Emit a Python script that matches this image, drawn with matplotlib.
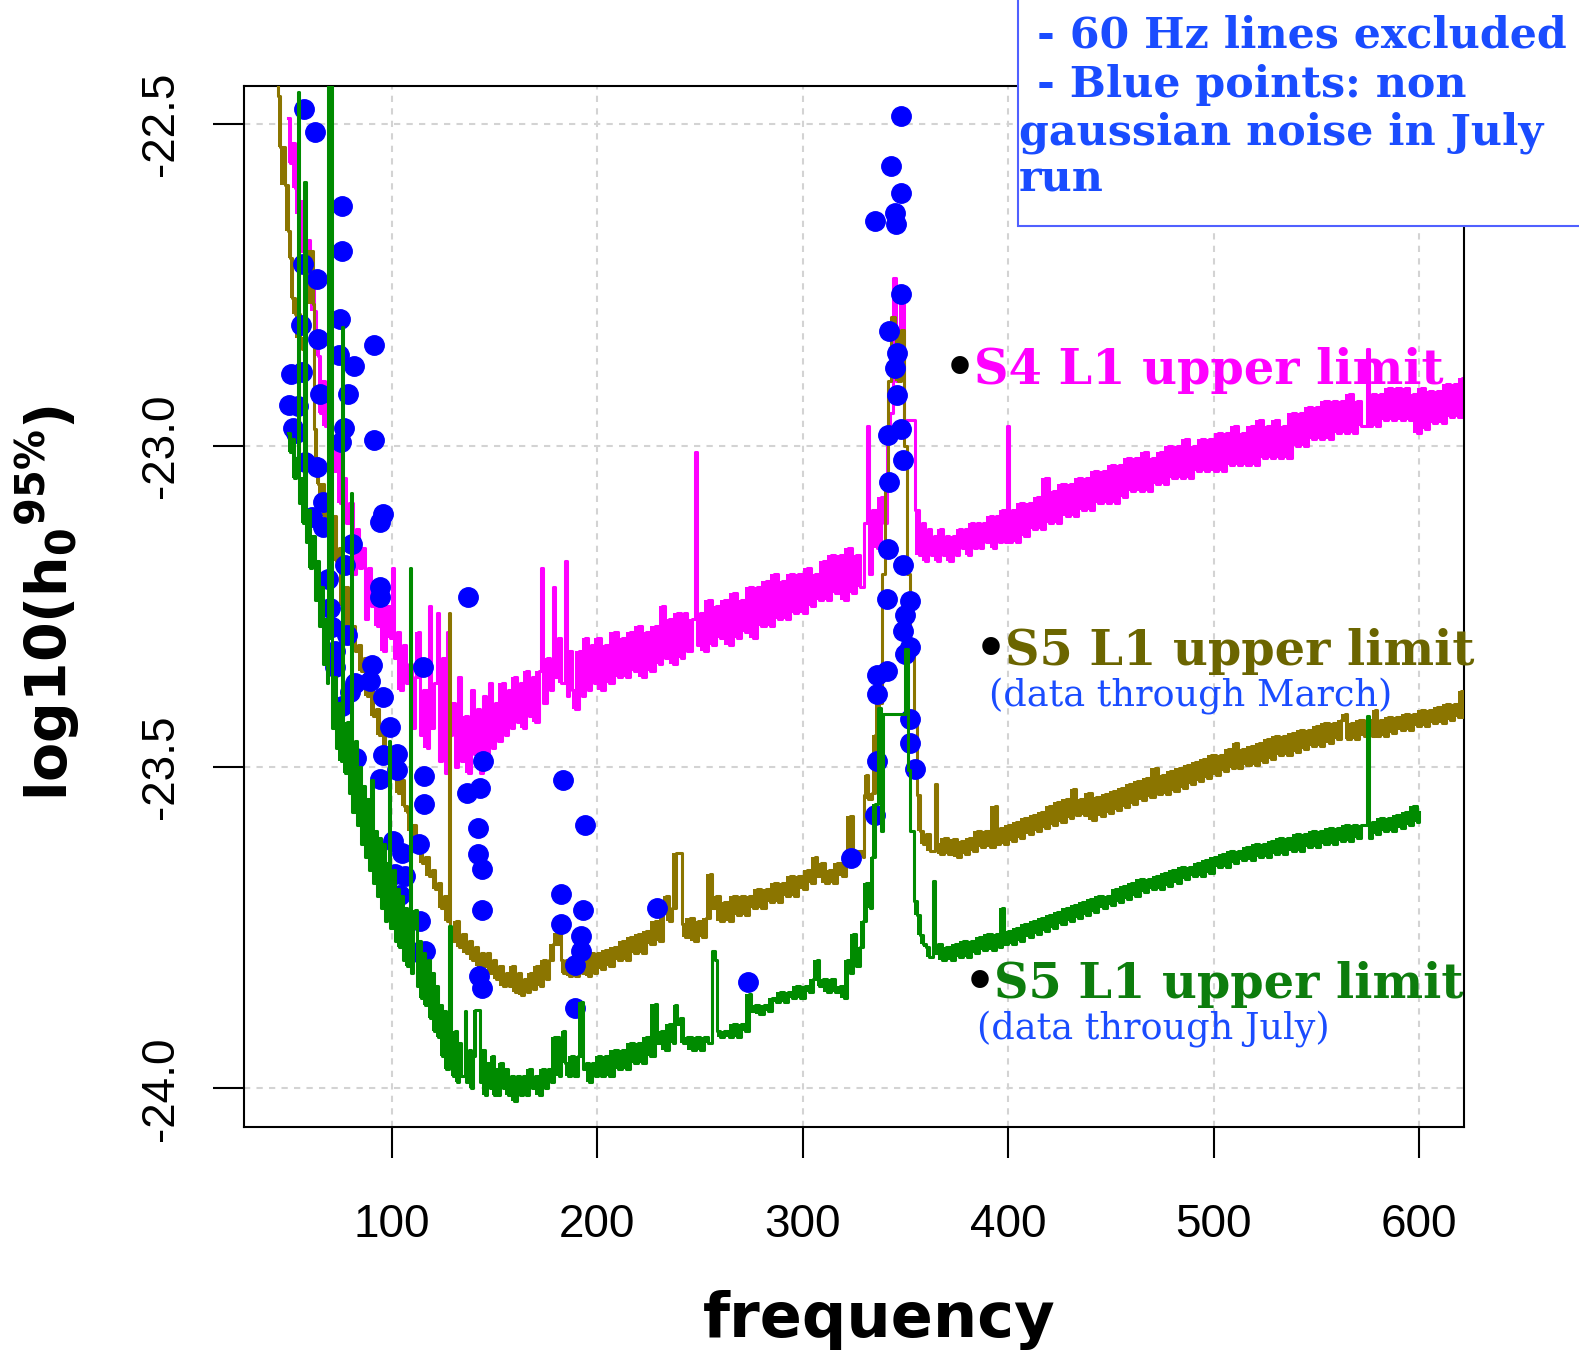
import numpy as np
import matplotlib
matplotlib.use('Agg')
from matplotlib import pyplot as plt
from matplotlib.patches import Rectangle

# S4 L1 upper limit (magenta), (frequency, log10 h0)
s4 = [(49.5,-22.49),(50.5,-22.56),(51.5,-22.53),(53,-22.6),(54.5,-22.64),(56,-22.62),(57.5,-22.7),(59,-22.68),
      (60.5,-22.74),(62,-22.79),(63,-22.83),(64,-22.86),(65,-22.95),(66,-22.9),(67.5,-22.97),(69,-22.95),
      (70.5,-23.02),(72,-23.04),(73.5,-23.0),(75,-23.09),(76.5,-23.05),(78,-23.12),(79.5,-23.09),(81,-23.2),
      (82.5,-23.13),(84,-23.19),(85.5,-23.16),(87,-23.27),(88.5,-23.19),(90,-23.25),(91.5,-23.21),(93,-23.28),
      (94.5,-23.23),(96,-23.32),(97.5,-23.25),(99,-23.3),(100,-23.19),(101,-23.33),(102.5,-23.29),(104,-23.38),
      (105.5,-23.31),(107,-23.37),(108.5,-23.34),(110,-23.44),(111.5,-23.36),(113,-23.29),(114,-23.45),(115.5,-23.38),
      (117,-23.47),(118,-23.25),(119,-23.44),(120.5,-23.37),(122,-23.26),(123,-23.49),(124.5,-23.33),(126,-23.51),
      (127,-23.29),(128,-23.45),(129.5,-23.4),(131,-23.5),(132.5,-23.36),(134,-23.49),(135.5,-23.42),(137,-23.51),
      (138.5,-23.38),(140,-23.48),(141.5,-23.41),(143,-23.51),(144.5,-23.39),(146,-23.49),(147.5,-23.37),(149,-23.47),
      (150.5,-23.4),(152,-23.46),(153.5,-23.37),(155,-23.45),(156.5,-23.38),(158,-23.44),(159.5,-23.36),(161,-23.43),
      (162.5,-23.37),(164,-23.44),(165.5,-23.35),(167,-23.42),(168.5,-23.36),(170,-23.43),(171.5,-23.35),(172.8,-23.19),
      (173.5,-23.4),(175.5,-23.33),(177,-23.38),(178.6,-23.22),(179.3,-23.36),(181,-23.3),(182.5,-23.37),(184.5,-23.18),
      (185.3,-23.39),(186.5,-23.32),(188,-23.38),(189.5,-23.41),(191,-23.32),(192.5,-23.39),(194,-23.3),(195.5,-23.38),
      (197,-23.31),(198.5,-23.37),(200,-23.3),
      (202,-23.38),(204,-23.31),(206,-23.37),(208,-23.29),(210,-23.36),(212,-23.3),(214,-23.36),(216,-23.29),
      (218,-23.35),(220,-23.28),(222,-23.36),(224,-23.29),(226,-23.35),(228,-23.28),(230,-23.34),(231.5,-23.25),
      (233,-23.33),(235,-23.27),(237,-23.34),(239,-23.26),(241,-23.33),(242.5,-23.26),(244,-23.32),(246,-23.27),
      (247.5,-23.01),(248.5,-23.31),(250,-23.26),(252,-23.32),(254,-23.24),(256,-23.31),(258,-23.25),(260,-23.3),
      (262,-23.24),(264,-23.31),(266,-23.23),(268,-23.3),(270,-23.24),(272,-23.29),(274,-23.22),(276,-23.3),
      (278,-23.22),(280,-23.28),(282,-23.21),(284,-23.28),(286,-23.2),(288,-23.27),(290,-23.21),(292,-23.27),
      (294,-23.2),(296,-23.26),(298,-23.2),(300,-23.26),(302,-23.19),(304,-23.25),(306,-23.2),(308,-23.24),
      (310,-23.18),(312,-23.24),(314,-23.17),(316,-23.23),(318,-23.17),(320,-23.24),(322,-23.16),(324,-23.23),
      (326,-23.17),(328,-23.22),(330,-23.12),(331.5,-22.97),(332.5,-23.2),(334,-23.1),(336,-23.16),(338,-23.08),
      (339.5,-23.12),(341,-22.99),(342.5,-22.95),(344,-22.74),(345.5,-22.9),(347,-22.85),(348.5,-22.78),(349.5,-22.96),
      (354.7,-23.1),(356.5,-23.17),(358,-23.12),(359.5,-23.18),(361,-23.13),(362.5,-23.17),(364,-23.14),(365.5,-23.18),
      (367,-23.13),(368.5,-23.17),(370,-23.14),(371.5,-23.18),(373,-23.14),(374.5,-23.17),(376,-23.13),(377.5,-23.16),
      (379,-23.13),(380.5,-23.17),(382,-23.12),(383.5,-23.16),(385,-23.12),(386.5,-23.16),(388,-23.12),(389.5,-23.15),
      (391,-23.11),(392.5,-23.16),(394,-23.11),(395.5,-23.15),(397,-23.1),(398.5,-23.15),(399.7,-22.97),(400.5,-23.15),
      (402,-23.1),(404,-23.15),(406,-23.09),(408,-23.14),(410,-23.09),(412,-23.13),(414,-23.08),(416,-23.13),
      (418,-23.05),(420,-23.12),(422,-23.07),(424,-23.12),(426,-23.06),(428,-23.11),(430,-23.06),(432,-23.11),
      (434,-23.05),(436,-23.1),(438,-23.05),(440,-23.1),(442,-23.04),(444,-23.09),(446,-23.04),(448,-23.09),
      (450,-23.03),(452,-23.09),(454,-23.03),(456,-23.08),(458,-23.02),(460,-23.07),(462,-23.02),(464,-23.07),
      (466,-23.01),(468,-23.07),(470,-23.02),(472,-23.06),(474,-23.01),(476,-23.06),(478,-23.0),(480,-23.05),
      (482,-23.0),(484,-23.05),(486,-22.99),(488,-23.05),(490,-23.0),(492,-23.04),(494,-22.99),(496,-23.04),
      (498,-22.99),(500,-23.04),(502,-22.98),(504,-23.04),(506,-22.98),(508,-23.03),(510,-22.97),(512,-23.03),
      (514,-22.98),(516,-23.03),(518,-22.97),(520,-23.03),(522,-22.96),(524,-23.02),(526,-22.97),(528,-23.02),
      (530,-22.96),(532,-23.02),(534,-22.97),(536,-23.02),(538,-22.95),(540,-23.0),(542,-22.95),(544,-23.0),
      (546,-22.94),(548,-22.99),(550,-22.94),(552,-22.99),(554,-22.93),(556,-22.99),(558,-22.93),(560,-22.98),
      (562,-22.93),(564,-22.98),(566,-22.92),(568,-22.98),(570,-22.93),(572,-22.97),(574.5,-22.85),(575.5,-22.97),
      (577,-22.92),(579,-22.97),(581,-22.92),(583,-22.96),(585,-22.91),(587,-22.96),(589,-22.91),(591,-22.96),
      (593,-22.91),(595,-22.96),(597,-22.92),(599,-22.98),(601,-22.91),(603,-22.975),(605,-22.915),(607,-22.965),
      (609,-22.915),(611,-22.965),(613,-22.905),(615,-22.955),(617,-22.905),(619,-22.955),(621,-22.895),(623,-22.945),
      (625,-22.915)]

# S5 L1 upper limit, data through March (olive)
s5_march = [(42,-22.3),(44.7,-22.456),(45.7,-22.535),(48.2,-22.595),(49.4,-22.666),(50.5,-22.708),(51.3,-22.77),
      (52.9,-22.796),(55.4,-22.833),(56.6,-22.85),(57.9,-22.697),(61.8,-22.78),(62.3,-22.975),(63.2,-23.02),
      (64,-23.06),(65,-23.09),(66,-23.06),(67,-23.11),(68.5,-23.08),(70,-23.14),(71.5,-23.11),(73,-23.18),
      (74.5,-23.16),(76,-23.25),(77.5,-23.22),(79,-23.3),(80.5,-23.28),(82,-23.32),(83.5,-23.31),(85,-23.35),
      (86.5,-23.33),(88,-23.39),(89.5,-23.37),(91,-23.42),(92.5,-23.41),(94,-23.45),(95.5,-23.44),(97,-23.48),
      (98.5,-23.47),(100,-23.5),(101.5,-23.51),(103,-23.54),(104.5,-23.52),(106,-23.56),(107.5,-23.57),(109,-23.6),
      (110.5,-23.59),(112,-23.63),(113.5,-23.62),(115,-23.65),(116.5,-23.64),(118,-23.67),(119.5,-23.66),(121,-23.69),
      (122.5,-23.68),(124,-23.72),(125.5,-23.7),(127,-23.74),(127.8,-23.26),(128.6,-23.75),(130,-23.77),(131.5,-23.74),
      (133,-23.78),(134.5,-23.76),(136,-23.79),(137.5,-23.77),(139,-23.8),(140.5,-23.78),(142,-23.81),(143.5,-23.79),
      (145,-23.81),(146.5,-23.79),(148,-23.82),(149.5,-23.8),(151,-23.83),(152.5,-23.81),(154,-23.84),(155.5,-23.82),
      (157,-23.84),(158.5,-23.81),(160,-23.85),(161.5,-23.82),(163,-23.855),(164.5,-23.83),(166,-23.85),(167.5,-23.82),
      (169,-23.845),(170.5,-23.81),(172,-23.84),(173.5,-23.8),(175,-23.83),(176.5,-23.8),(178.5,-23.775),(181.8,-23.758),
      (182.3,-23.8),(183.5,-23.82),(185,-23.8),(186.5,-23.825),(188,-23.805),(189.5,-23.825),(191,-23.8),(192.5,-23.82),
      (194,-23.795),(195.5,-23.825),(197,-23.79),(198.5,-23.82),(200,-23.79),(202,-23.815),(204,-23.785),(206,-23.81),
      (208,-23.78),(210,-23.8),(212,-23.77),(214,-23.8),(216,-23.765),(218,-23.79),(220,-23.76),(222,-23.79),
      (224,-23.755),(226,-23.775),(228,-23.74),(230,-23.77),(232,-23.72),(233.5,-23.7),(235,-23.74),(236.5,-23.72),
      (238.4,-23.634),(241.2,-23.745),(243,-23.765),(245,-23.735),(247,-23.77),(249,-23.74),(251,-23.765),(253,-23.735),
      (255,-23.667),(256,-23.72),(258,-23.7),(260,-23.74),(262,-23.71),(264,-23.74),(266,-23.7),(268,-23.73),
      (270,-23.7),(272,-23.73),(274,-23.7),(276,-23.72),(278,-23.69),(280,-23.72),(282,-23.69),(284,-23.71),
      (286,-23.68),(288,-23.71),(290,-23.68),(292,-23.7),(294,-23.67),(296,-23.7),(298,-23.67),(300,-23.69),
      (302,-23.66),(304,-23.68),(306,-23.64),(307,-23.67),(309,-23.65),(311,-23.68),(313,-23.66),(315,-23.68),
      (317,-23.65),(319,-23.67),(321,-23.64),(323,-23.576),(324.5,-23.635),(327,-23.63),(329.4,-23.64),(330,-23.544),
      (331,-23.513),(332,-23.55),(334,-23.54),(335.5,-23.45),(337,-23.4),(338.5,-23.2),(340,-23.06),(341.5,-22.9),
      (343,-22.8),(345,-22.83),(346.5,-22.9),(348,-22.82),(349.5,-23.0),(351,-23.2),(352.5,-23.32),(354,-23.43),
      (355.5,-23.543),(357,-23.6),(358.5,-23.62),(360,-23.605),(362,-23.63),(364.5,-23.527),(365.5,-23.62),(367,-23.635),
      (369,-23.61),(371,-23.635),(373,-23.612),(375,-23.64),(377,-23.615),(379,-23.635),(381,-23.61),(383,-23.63),
      (385,-23.6),(387,-23.625),(389,-23.6),(391,-23.625),(393.6,-23.56),(394.5,-23.62),(396,-23.595),(398,-23.62),
      (400,-23.59),(402,-23.615),(404,-23.585),(406,-23.61),(408,-23.58),(410,-23.605),(412,-23.575),(414,-23.6),
      (416,-23.57),(418,-23.595),(420,-23.56),(422,-23.59),(424,-23.555),(426,-23.585),(428,-23.55),(430,-23.58),
      (431.6,-23.535),(433,-23.575),(435,-23.55),(437,-23.575),(439,-23.54),
      (441,-23.582),(443,-23.547),(445,-23.577),(447,-23.542),(449,-23.572),(451,-23.537),(453,-23.567),(455,-23.532),
      (457,-23.562),(459,-23.527),(461,-23.557),(463,-23.522),(465,-23.552),(467,-23.517),(469,-23.547),(471.5,-23.502),
      (473,-23.542),(475,-23.512),(477,-23.542),(479,-23.507),(481,-23.537),(483,-23.502),(485,-23.532),(487,-23.497),
      (489,-23.527),(491,-23.492),(493,-23.522),(495,-23.487),(497,-23.517),(499,-23.482),(501,-23.512),(503,-23.482),
      (505,-23.507),(507,-23.472),(509,-23.502),(510.5,-23.462),(512,-23.502),(514,-23.472),(516,-23.497),(518,-23.467),
      (520,-23.497),(522,-23.462),(524,-23.492),(526,-23.457),(528,-23.487),(530,-23.452),(532,-23.482),(534,-23.452),
      (536,-23.482),(538,-23.447),(540,-23.477),(542,-23.442),(544,-23.472),(546,-23.442),(548,-23.467),(550,-23.437),
      (552,-23.467),(554,-23.432),(556,-23.462),(558,-23.432),(560,-23.457),(562,-23.427),(564,-23.417),(565,-23.457),
      (567,-23.432),(569,-23.457),(571,-23.427),(573,-23.452),(575,-23.427),(577,-23.452),(578.5,-23.412),(579.5,-23.452),
      (581,-23.427),(583,-23.452),(585,-23.422),(587,-23.447),(589,-23.422),(591,-23.442),(593,-23.417),(595,-23.442),
      (597,-23.417),(599,-23.437),(601,-23.412),(603,-23.437),(605,-23.412),(607,-23.432),(609,-23.407),(611,-23.432),
      (613,-23.402),(615,-23.427),(617,-23.402),(619,-23.422),(620.5,-23.382),(621.5,-23.422),(623,-23.412),(625,-23.422)]

# S5 L1 upper limit, data through July (green)
s5_july = [(49.5,-22.98),(50.5,-23.01),(51.5,-22.99),(52.5,-23.05),(53.5,-23.02),(54.3,-22.45),(54.8,-23.09),
      (56,-23.05),(57,-23.12),(57.6,-22.59),(58.2,-23.15),(59.5,-23.1),(60.5,-23.19),(61.5,-23.14),(62.5,-23.24),
      (63.5,-23.18),(64.5,-23.28),(65.5,-23.22),(66.5,-23.34),(67.5,-23.27),(68.5,-23.37),(69.2,-22.3),(69.8,-23.3),
      (70.4,-22.3),(71,-23.44),(72,-23.36),(73,-23.47),(74,-23.4),(75.2,-23.49),(75.7,-22.815),(76.3,-23.45),
      (77.3,-23.51),(78.3,-23.43),(79.3,-23.54),(80.2,-23.074),(80.8,-23.57),(82,-23.46),(83,-23.59),(84,-23.5),
      (85,-23.62),(86,-23.53),(87,-23.64),(88,-23.55),(89,-23.66),(90,-23.52),(91,-23.68),(92,-23.6),(93,-23.7),
      (94,-23.61),(95,-23.72),(96,-23.62),(97,-23.74),(98,-23.65),(98.7,-23.459),(99.3,-23.75),(100.5,-23.66),
      (101.5,-23.77),(102.5,-23.69),(103.5,-23.78),(104.5,-23.7),(105.5,-23.8),(106.5,-23.72),(107.5,-23.81),
      (108.9,-23.191),(109.4,-23.82),(110.5,-23.75),(111.6,-23.723),(112.3,-23.84),(113.5,-23.77),(114.5,-23.86),
      (115.5,-23.79),(116.5,-23.87),(117.5,-23.8),(118.5,-23.89),(119.5,-23.82),(120.5,-23.91),(121.5,-23.84),
      (122.5,-23.92),(123.5,-23.87),(124.5,-23.95),(125.5,-23.88),(126.5,-23.97),(128.1,-23.747),(128.8,-23.93),
      (130,-23.98),(131,-23.91),(132,-23.99),(133,-23.93),(134,-23.98),(135.7,-23.88),(136.4,-23.99),(137.5,-23.94),
      (138.5,-24.0),(139.5,-23.95),(140.6,-23.878),(143,-23.99),(144,-23.94),(145.5,-24.01),(146.5,-23.96),(148,-24.0),
      (149,-23.95),(150,-24.01),(151,-23.97),(152,-24.01),(153,-23.96),(154,-24.0),(155,-23.97),(156.5,-24.01),
      (158,-23.98),(159.5,-24.02),(161,-23.98),(162.5,-24.01),(164,-23.98),(165.5,-24.01),(167,-23.97),(168.5,-24.0),
      (170,-23.98),(171.5,-24.01),(173,-23.97),(174.5,-24.0),(176,-23.97),(177.5,-23.99),(179,-23.92),(181.3,-23.98),
      (182.5,-23.94),(183.5,-23.91),(184.5,-23.96),(186,-23.98),(187.5,-23.95),(189,-23.98),(190.5,-23.95),(192,-23.866),
      (193,-23.97),(194.5,-23.96),(196,-23.99),(197.5,-23.96),(199,-23.98),(200.5,-23.95),(202,-23.98),(204,-23.95),
      (206,-23.98),(208,-23.94),(210,-23.97),(212,-23.94),(214,-23.97),(216,-23.93),(218,-23.96),(220,-23.93),
      (222,-23.96),(224,-23.92),(226,-23.95),(228.2,-23.868),(229.4,-23.93),(231,-23.91),(233,-23.94),(235,-23.9),
      (237,-23.93),(237.9,-23.87),(239,-23.9),(240.5,-23.89),(242,-23.93),(244,-23.92),(246,-23.94),(248,-23.92),
      (250,-23.94),(252,-23.92),(254,-23.93),(256,-23.787),(257.5,-23.8),(258.3,-23.91),(260,-23.92),(262,-23.91),
      (264,-23.92),(266,-23.9),(268,-23.92),(270,-23.9),(272,-23.91),(273.9,-23.853),(275,-23.88),(277,-23.87),
      (279,-23.885),(281,-23.87),(283,-23.88),(285,-23.86),(287,-23.865),(289,-23.85),(291,-23.865),(293,-23.85),
      (295,-23.86),(297,-23.84),(299,-23.86),(301,-23.84),(303,-23.85),(305,-23.83),(306.8,-23.8),(308,-23.84),
      (310,-23.83),(312,-23.85),(314,-23.83),(316,-23.85),(318,-23.84),(320,-23.86),(321.5,-23.8),(323,-23.82),
      (324.5,-23.76),(326,-23.81),(328,-23.78),(329.4,-23.74),(331,-23.68),(332.6,-23.72),(334,-23.64),(335.3,-23.558),
      (336.5,-23.409),(338,-23.6),(339.3,-23.417),(349.9,-23.317),(351.5,-23.504),(352.3,-23.6),(354,-23.709),
      (355.5,-23.73),(357,-23.761),(358.7,-23.776),(360,-23.78),(361.5,-23.795),(363.5,-23.677),(364.5,-23.79),
      (366,-23.775),(368,-23.8),(370,-23.78),(372,-23.8),(374,-23.775),(376,-23.795),(378,-23.77),(380,-23.795),
      (382,-23.77),(384,-23.79),(386,-23.765),(388,-23.785),(390,-23.76),(392,-23.785),(394,-23.76),(395.5,-23.78),
      (397,-23.72),(398,-23.775),(400,-23.755),(402,-23.775),(404,-23.75),(406,-23.77),(408,-23.745),(410,-23.765),
      (412,-23.74),(414,-23.76),(416,-23.735),(418,-23.755),(420,-23.73),(422,-23.75),(424,-23.725),(426,-23.745),
      (428,-23.72),(430,-23.74),(432,-23.715),(434,-23.735),(436,-23.71),(438,-23.73),(440,-23.705),(442,-23.725),
      (444,-23.7),(446,-23.72),(448,-23.7),(450,-23.715),(452,-23.69),(454,-23.71),(456,-23.685),(458,-23.705),
      (460,-23.68),(462,-23.7),(464,-23.675),(466,-23.695),(468,-23.675),(470,-23.69),(472,-23.67),(474,-23.69),
      (476,-23.665),(478,-23.685),(480,-23.66),(482,-23.68),(484,-23.655),(486,-23.675),(488,-23.655),(490,-23.67),
      (492,-23.65),(494,-23.67),(496,-23.645),(498,-23.665),(500,-23.64),(502,-23.655),(504,-23.635),(506,-23.655),
      (508,-23.63),(510,-23.65),(512,-23.63),(514,-23.645),(516,-23.625),(518,-23.645),(520,-23.62),(522,-23.64),
      (524,-23.62),(526,-23.64),(528,-23.615),(530,-23.635),(532,-23.61),(534,-23.635),(536,-23.61),(538,-23.63),
      (540,-23.605),(542,-23.63),(544,-23.605),(546,-23.625),(548,-23.6),(550,-23.625),(552,-23.6),(554,-23.62),
      (556,-23.595),(558,-23.62),(560,-23.595),(562,-23.615),(564,-23.59),(566,-23.615),(568,-23.59),(570,-23.61),
      (572,-23.59),(574.5,-23.42),(575.5,-23.61),(577,-23.585),(579,-23.605),(581,-23.58),(583,-23.6),(585,-23.58),
      (587,-23.6),(589,-23.575),(591,-23.595),(593,-23.57),(595,-23.59),(597,-23.56),(599,-23.585),(600,-23.57)]

# non gaussian noise in July run (blue points)
blue_points = [(57.4,-22.477),(62.6,-22.512),(75.9,-22.627),(75.9,-22.697),(56.7,-22.717),(63.5,-22.741),
      (55.7,-22.812),(75.0,-22.803),(64.0,-22.834),(91.5,-22.843),(74.3,-22.859),(81.8,-22.877),(51.0,-22.889),
      (56.5,-22.885),(65.1,-22.920),(78.9,-22.920),(49.9,-22.937),(54.5,-22.938),(52.1,-22.973),(76.9,-22.972),
      (75.3,-22.994),(91.5,-22.992),(53.7,-22.981),(57.8,-23.025),(63.5,-23.033),(66.7,-23.088),
      (95.9,-23.106),(94.3,-23.119),(61.1,-23.111),(66.7,-23.127),(80.5,-23.153),(77.3,-23.186),(69.1,-23.207),
      (94.3,-23.220),(94.3,-23.236),(69.9,-23.252),(70.8,-23.283),(78.1,-23.294),(72.4,-23.319),(72.4,-23.345),
      (90.3,-23.342),(115.4,-23.345),(82.1,-23.369),(89.4,-23.366),(79.7,-23.384),(95.9,-23.391),(75.7,-23.405),
      (99.2,-23.438),(82.5,-23.486),(95.9,-23.481),(102.4,-23.480),(94.3,-23.519),(102.4,-23.504),(115.9,-23.514),
      (115.9,-23.557),(91.9,-23.626),(100.8,-23.615),(104.9,-23.634),(113.4,-23.620),(101.6,-23.667),(106.5,-23.670),
      (104.0,-23.699),(113.8,-23.740),(116.2,-23.787),(109.7,-23.788),
      (137.0,-23.236),(144.7,-23.491),(136.6,-23.541),(143.0,-23.532),(141.9,-23.595),(141.9,-23.635),(143.9,-23.658),
      (143.9,-23.722),(142.3,-23.825),(143.9,-23.844),(183.4,-23.521),(194.3,-23.591),(182.5,-23.697),(193.2,-23.722),
      (182.5,-23.744),(192.4,-23.763),(192.2,-23.786),(189.5,-23.808),(189.2,-23.875),(229.0,-23.719),(273.5,-23.834),
      (347.8,-22.487),(342.9,-22.565),(347.8,-22.607),(335.3,-22.651),(345.0,-22.638),(345.5,-22.655),(347.8,-22.765),
      (342.1,-22.822),(345.9,-22.856),(345.0,-22.880),(345.9,-22.921),(341.8,-22.983),(347.8,-22.975),(348.8,-23.023),
      (342.1,-23.056),(341.8,-23.161),(348.8,-23.186),(341.0,-23.239),(352.3,-23.242),(349.9,-23.264),(349.1,-23.289),
      (352.3,-23.313),(349.9,-23.325),(336.4,-23.357),(341.0,-23.351),(336.1,-23.387),(352.3,-23.425),(352.3,-23.463),
      (354.8,-23.503),(336.4,-23.490),(335.3,-23.574),(323.5,-23.641)]

x_ticks = [100, 200, 300, 400, 500, 600]
y_ticks = [-24.0, -23.5, -23.0, -22.5]
note_lines = ['- 60 Hz lines excluded', '- Blue points: non', 'gaussian noise in July', 'run']

fig = plt.figure(figsize=(15.79, 13.56), dpi=100)
ax = fig.add_axes([0.1543, 0.1689, 0.7730, 0.7680])

# R style axis padding (4%)
x0, x1 = 50, 600
y0, y1 = -24.0, -22.5
ax.set_xlim(x0 - 0.04*(x1-x0), x1 + 0.04*(x1-x0))
ax.set_ylim(y0 - 0.04*(y1-y0), y1 + 0.04*(y1-y0))

for xt in x_ticks:
    ax.axvline(xt, color='#d3d3d3', lw=1.5, ls=(0, (3, 3)), zorder=0)
for yt in y_ticks:
    ax.axhline(yt, color='#d3d3d3', lw=1.5, ls=(0, (3, 3)), zorder=0)


def draw_limit(pts, color, z):
    f = np.array([p[0] for p in pts])
    v = np.array([p[1] for p in pts])
    ax.plot(f, v, color=color, lw=2.2, drawstyle='steps-post', zorder=z)
    # the bins are dense: shade between neighbouring values so the noise reads as a band
    lo = np.minimum(v[:-1], v[1:])
    hi = np.maximum(v[:-1], v[1:])
    ok = (hi - lo) < 0.09
    ax.bar(f[:-1][ok], (hi - lo)[ok], width=np.diff(f)[ok], bottom=lo[ok], align='edge',
           color=color, lw=0, zorder=z)


draw_limit(s4, '#ff00ff', 2)
draw_limit(s5_march, '#8b7500', 3)
f, v = zip(*blue_points)
ax.plot(f, v, 'o', color='#0000ff', ms=14, mec='#0000ff', zorder=4)
draw_limit(s5_july, '#008b00', 5)

ax.set_xticks(x_ticks)
ax.set_xticklabels([str(t) for t in x_ticks], fontsize=33, family='Liberation Sans')
ax.set_yticks(y_ticks)
ax.set_yticklabels(['%.1f' % t for t in y_ticks], fontsize=33, family='Liberation Sans',
                   rotation=90, va='center')
ax.tick_params(axis='both', direction='out', length=22, width=1.5)
ax.tick_params(axis='x', pad=33)
ax.tick_params(axis='y', pad=22)
for s in ax.spines.values():
    s.set_linewidth(1.5)

# curve labels
serif = 'DejaVu Serif'
lab = [(383.4, -22.905, 'S4 L1 upper limit', '#ff00ff'),
       (398.6, -23.342, 'S5 L1 upper limit', '#6b6500'),
       (393.2, -23.860, 'S5 L1 upper limit', '#0d7d0d')]
for x, y, t, c in lab:
    ax.text(x + 0.8, y, '\u2022', color='black', fontsize=36, family=serif, fontweight='bold',
            ha='right', va='baseline', zorder=6)
    ax.text(x, y, t, color=c, fontsize=34.5, family=serif, fontweight='bold',
            ha='left', va='baseline', zorder=6)
ax.text(390.7, -23.405, '(data through March)', color='#1a4cff', fontsize=26.4, family=serif,
        ha='left', va='baseline', zorder=6)
ax.text(384.9, -23.923, '(data through July)', color='#1a4cff', fontsize=26.4, family=serif,
        ha='left', va='baseline', zorder=6)

fig.text(0.5567, 0.014, 'frequency', fontsize=44.8, fontweight='bold', family='DejaVu Sans',
         ha='center', va='baseline')
plt.rcParams['mathtext.fontset'] = 'dejavusans'
fig.text(0.030, 0.5553, r'$\mathbf{log10(h_0{}^{95\%})}$', fontsize=41, rotation=90,
         ha='center', va='center')

# note box in the top right corner
fig.add_artist(Rectangle((1018/1579, 1 - 226/1356), 0.37, 226/1356 + 0.01, transform=fig.transFigure,
                         facecolor='white', edgecolor='#5060ff', lw=1.5, clip_on=False))
note_pos = [(0.6567, 0.9651), (0.6567, 0.9287), (0.6453, 0.8934), (0.6453, 0.8586)]
for (x, y), t in zip(note_pos, note_lines):
    fig.text(x, y, t, color='#1a4cff', fontsize=30.8, family=serif, fontweight='bold',
             ha='left', va='baseline')

fig.savefig('out.png', dpi=100)
